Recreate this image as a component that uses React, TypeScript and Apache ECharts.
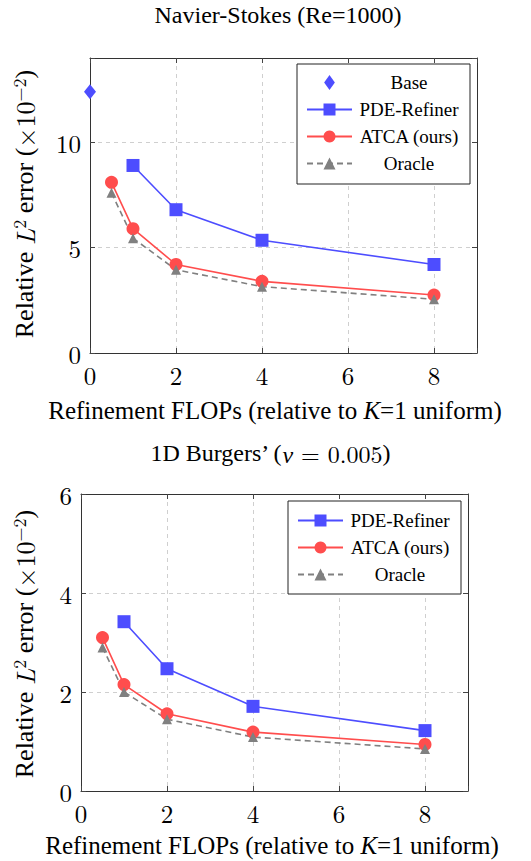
import React, { useEffect, useRef } from 'react';
import * as echarts from 'echarts';

const TEXT_FONT = 'Liberation Serif';
const MATH_FONT = 'Latin Modern Roman';
const BLUE = '#4d4dff';
const RED = '#ff4d4d';
const GRAY = '#808080';

// x positions (refinement FLOPs relative to K=1 uniform)
const baseFlops = [0];
const refinerFlops = [1, 2, 4, 8];
const adaptiveFlops = [0.5, 1, 2, 4, 8];

// Navier-Stokes (Re=1000), relative L2 error (x1e-2)
const nsBase = [12.4];
const nsRefiner = [8.9, 6.8, 5.35, 4.2];
const nsAtca = [8.1, 5.9, 4.2, 3.4, 2.75];
const nsOracle = [7.6, 5.45, 3.95, 3.15, 2.55];

// 1D Burgers' (nu = 0.005)
const bgRefiner = [3.42, 2.47, 1.71, 1.22];
const bgAtca = [3.1, 2.15, 1.56, 1.19, 0.94];
const bgOracle = [2.9, 2.0, 1.45, 1.09, 0.85];

const seriesNames = ['Base', 'PDE-Refiner', 'ATCA (ours)', 'Oracle'];

const pairs = (xs: number[], ys: number[]) => xs.map((x, i) => [x, ys[i]]);

export default function App() {
  const ref = useRef<HTMLDivElement>(null);
  useEffect(() => {
    const chart = echarts.init(ref.current as HTMLDivElement, null, { renderer: 'svg' });

    const frame = { show: true, onZero: false, lineStyle: { color: '#333', width: 1 } };
    const tick = { show: true, inside: true, length: 5, lineStyle: { color: '#444', width: 1 } };
    const split = {
      show: true,
      showMinLine: false,
      showMaxLine: false,
      lineStyle: { color: '#cfcfcf', type: [4, 4], width: 1 },
    };
    const label = (hide: number | null) => ({
      fontFamily: MATH_FONT,
      fontSize: 25,
      color: '#000',
      margin: 9,
      formatter: (v: number) => (hide !== null && v === hide ? '' : String(v)),
    });

    const xMain = (g: number) => ({
      type: 'value', gridIndex: g, position: 'bottom', min: 0, max: 9, interval: 2,
      axisLine: frame, axisTick: tick, axisLabel: label(9), splitLine: split,
    });
    const xTop = (g: number) => ({
      type: 'value', gridIndex: g, position: 'top', min: 0, max: 9, interval: 2,
      axisLine: frame, axisTick: tick, axisLabel: { show: false }, splitLine: { show: false },
    });
    const yMain = (g: number, max: number, interval: number, hide: number | null) => ({
      type: 'value', gridIndex: g, position: 'left', min: 0, max, interval,
      axisLine: frame, axisTick: tick, axisLabel: label(hide), splitLine: split,
    });
    const yRight = (g: number, max: number, interval: number) => ({
      type: 'value', gridIndex: g, position: 'right', min: 0, max, interval,
      axisLine: frame, axisTick: tick, axisLabel: { show: false }, splitLine: { show: false },
    });

    const lineSeries = (name: string, xi: number, data: number[][], color: string, symbol: string, size: number, dashed = false) => ({
      name,
      type: 'line',
      xAxisIndex: xi,
      yAxisIndex: xi,
      data,
      symbol,
      symbolSize: size,
      showSymbol: true,
      clip: false,
      color,
      itemStyle: { color },
      lineStyle: { color, width: 1.6, type: dashed ? [6, 4] : 'solid' },
      z: 3,
    });

    const legendText = {
      fontFamily: TEXT_FONT,
      fontSize: 19,
      lineHeight: 18,
      color: '#000',
      rich: {
        c: { width: 104, align: 'center', fontFamily: TEXT_FONT, fontSize: 19, lineHeight: 18, color: '#000' },
      },
    };
    const legendBase = {
      orient: 'vertical',
      selectedMode: false,
      itemWidth: 45,
      itemHeight: 15,
      itemGap: 8,
      borderColor: '#222',
      borderWidth: 1,
      backgroundColor: '#fff',
      formatter: (n: string) => `{c|${n}}`,
      textStyle: legendText,
    };

    const yName = (y: number) => ({
      type: 'text',
      x: 24,
      y,
      rotation: Math.PI / 2,
      style: {
        text: 'Relative {i|L}{sup|2} error ({m|×10}{sup|−2})',
        rich: {
          i: { fontFamily: MATH_FONT, fontSize: 26, fontStyle: 'italic', lineHeight: 30 },
          m: { fontFamily: MATH_FONT, fontSize: 26, lineHeight: 30 },
          sup: { fontFamily: MATH_FONT, fontSize: 18, verticalAlign: 'top', lineHeight: 18 },
        },
        fontFamily: TEXT_FONT,
        fontSize: 26,
        lineHeight: 30,
        fill: '#000',
        align: 'center',
        verticalAlign: 'middle',
      },
    });
    const xName = (x: number, y: number) => ({
      type: 'text',
      x,
      y,
      style: {
        text: 'Refinement FLOPs (relative to {i|K}{m|=1} uniform)',
        rich: {
          i: { fontFamily: TEXT_FONT, fontSize: 25, fontStyle: 'italic', lineHeight: 20 },
          m: { fontFamily: TEXT_FONT, fontSize: 25, lineHeight: 20 },
        },
        fontFamily: TEXT_FONT,
        fontSize: 25,
        lineHeight: 20,
        fill: '#000',
        align: 'center',
        verticalAlign: 'middle',
      },
    });

    chart.setOption({
      animation: false,
      backgroundColor: '#fff',
      grid: [
        { left: 90, top: 58, width: 387, height: 295 },
        { left: 81, top: 494, width: 387, height: 297 },
      ],
      xAxis: [xMain(0), xTop(0), xMain(1), xTop(1)],
      yAxis: [yMain(0, 14, 5, 14), yRight(0, 14, 5), yMain(1, 6, 2, null), yRight(1, 6, 2)],
      legend: [
        {
          ...legendBase,
          left: 297,
          top: 64,
          padding: [9, 9, 11, 9],
          data: [
            { name: seriesNames[0], icon: 'path://M5 0 L10 7 L5 14 L0 7 Z' },
            seriesNames[1],
            seriesNames[2],
            seriesNames[3],
          ],
        },
        {
          ...legendBase,
          left: 288,
          top: 501,
          padding: [10, 9, 10, 9],
          data: [seriesNames[1], seriesNames[2], seriesNames[3]],
        },
      ],
      series: [
        {
          name: seriesNames[0],
          type: 'scatter',
          xAxisIndex: 0,
          yAxisIndex: 0,
          data: pairs(baseFlops, nsBase),
          symbol: 'diamond',
          symbolSize: [12, 15],
          clip: false,
          color: BLUE,
          itemStyle: { color: BLUE, opacity: 1 },
          z: 5,
        },
        lineSeries(seriesNames[1], 0, pairs(refinerFlops, nsRefiner), BLUE, 'rect', 13),
        lineSeries(seriesNames[2], 0, pairs(adaptiveFlops, nsAtca), RED, 'circle', 13),
        lineSeries(seriesNames[3], 0, pairs(adaptiveFlops, nsOracle), GRAY, 'triangle', 10, true),
        lineSeries(seriesNames[1], 2, pairs(refinerFlops, bgRefiner), BLUE, 'rect', 13),
        lineSeries(seriesNames[2], 2, pairs(adaptiveFlops, bgAtca), RED, 'circle', 13),
        lineSeries(seriesNames[3], 2, pairs(adaptiveFlops, bgOracle), GRAY, 'triangle', 10, true),
      ],
      graphic: [
        {
          type: 'text',
          x: 278,
          y: 15,
          style: {
            text: 'Navier-Stokes (Re=1000)',
            fontFamily: TEXT_FONT,
            fontSize: 24,
            fill: '#000',
            align: 'center',
            verticalAlign: 'middle',
          },
        },
        {
          type: 'text',
          x: 270,
          y: 453,
          style: {
            text: '1D Burgers’ ({i|ν}{m| = 0.005})',
            rich: {
              i: { fontFamily: MATH_FONT, fontSize: 24, fontStyle: 'italic' },
              m: { fontFamily: MATH_FONT, fontSize: 24 },
            },
            fontFamily: TEXT_FONT,
            fontSize: 24,
            fill: '#000',
            align: 'center',
            verticalAlign: 'middle',
          },
        },
        xName(275, 410),
        xName(272, 845),
        yName(204),
        yName(644),
      ],
    });

    return () => chart.dispose();
  }, []);
  return (
    <div
      ref={ref}
      style={{ position: 'absolute', left: 0, top: 0, width: 531, height: 861 }}
    />
  );
}
